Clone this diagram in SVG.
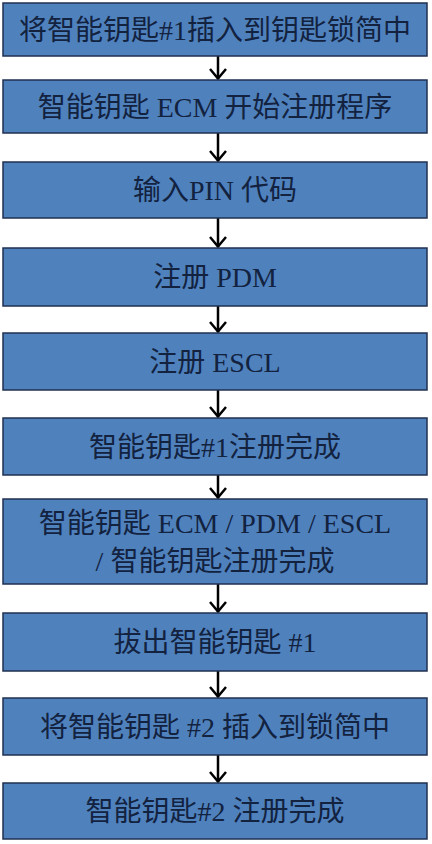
<svg xmlns="http://www.w3.org/2000/svg" width="432" height="844" viewBox="0 0 432 844">
<style>
.box{fill:#4F81BD;stroke:#1F3050;stroke-width:1.5}
.t{font-family:"Liberation Serif","Noto Sans CJK SC",serif;font-size:28px;fill:#12223F;text-anchor:middle;dominant-baseline:central}
.c{stroke:#000;stroke-width:2.5;fill:none}
</style>
<defs>
<marker id="ah" markerUnits="userSpaceOnUse" viewBox="0 0 12 20" markerWidth="12" markerHeight="20" refX="11" refY="10" orient="auto">
<path d="M1,2 L10.5,10 L1,18" fill="none" stroke="#000" stroke-width="2.5"/>
</marker>
</defs>
<rect width="432" height="844" fill="#fff"/>
<g id="connectors">
<line class="c" x1="218" y1="56" x2="218" y2="79" marker-end="url(#ah)"/>
<line class="c" x1="218" y1="133" x2="218" y2="161" marker-end="url(#ah)"/>
<line class="c" x1="218" y1="218" x2="218" y2="247" marker-end="url(#ah)"/>
<line class="c" x1="218" y1="306" x2="218" y2="332" marker-end="url(#ah)"/>
<line class="c" x1="218" y1="390" x2="218" y2="417" marker-end="url(#ah)"/>
<line class="c" x1="218" y1="475" x2="218" y2="498" marker-end="url(#ah)"/>
<line class="c" x1="218" y1="584" x2="218" y2="612" marker-end="url(#ah)"/>
<line class="c" x1="218" y1="671" x2="218" y2="697" marker-end="url(#ah)"/>
<line class="c" x1="218" y1="755" x2="218" y2="782" marker-end="url(#ah)"/>
</g>
<g id="n1"><rect class="box" x="3" y="3" width="424" height="53"/><text class="t" x="215" y="30">将智能钥匙#1插入到钥匙锁简中</text></g>
<g id="n2"><rect class="box" x="3" y="80" width="424" height="53"/><text class="t" x="215" y="107">智能钥匙 ECM 开始注册程序</text></g>
<g id="n3"><rect class="box" x="3" y="162" width="424" height="56"/><text class="t" x="215" y="190">输入PIN 代码</text></g>
<g id="n4"><rect class="box" x="3" y="248" width="424" height="58"/><text class="t" x="215" y="277">注册 PDM</text></g>
<g id="n5"><rect class="box" x="3" y="333" width="424" height="57"/><text class="t" x="215" y="362">注册 ESCL</text></g>
<g id="n6"><rect class="box" x="3" y="418" width="424" height="57"/><text class="t" x="215" y="447">智能钥匙#1注册完成</text></g>
<g id="n7"><rect class="box" x="3" y="499" width="424" height="85"/><text class="t" x="215" y="523">智能钥匙 ECM / PDM / ESCL</text><text class="t" x="215" y="561">/ 智能钥匙注册完成</text></g>
<g id="n8"><rect class="box" x="3" y="613" width="424" height="58"/><text class="t" x="215" y="642">拔出智能钥匙 #1</text></g>
<g id="n9"><rect class="box" x="3" y="698" width="424" height="57"/><text class="t" x="215" y="727">将智能钥匙 #2 插入到锁简中</text></g>
<g id="n10"><rect class="box" x="3" y="783" width="424" height="56"/><text class="t" x="215" y="811">智能钥匙#2 注册完成</text></g>
</svg>
